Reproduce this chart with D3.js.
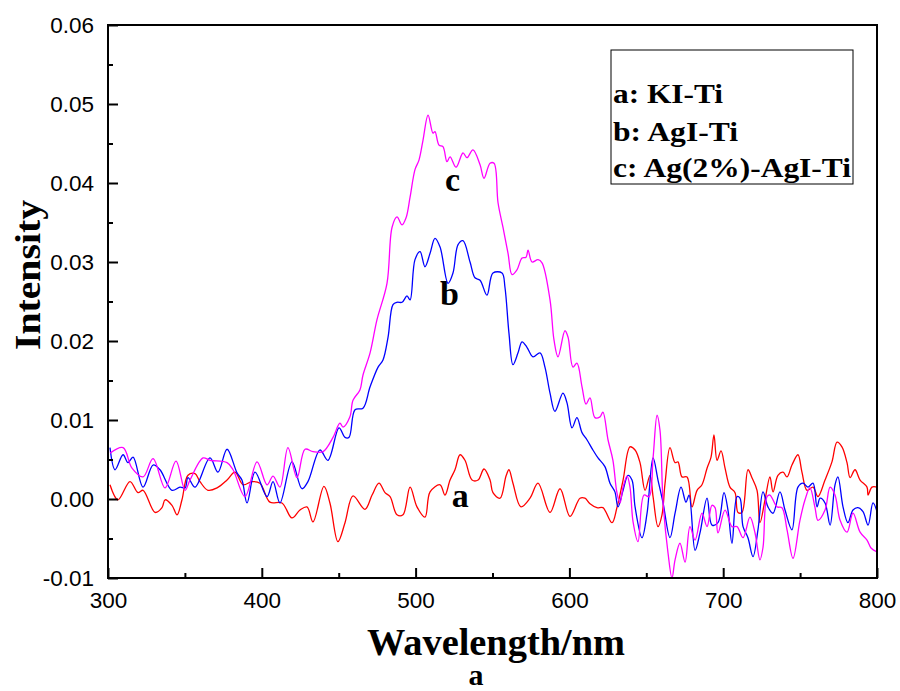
<!DOCTYPE html>
<html><head><meta charset="utf-8">
<script src="https://cdn.jsdelivr.net/npm/d3@7/dist/d3.min.js"></script>
<style>body{margin:0;background:#fff}svg{display:block}</style>
</head><body>
<svg id="chart" width="900" height="691"></svg>
<script>
const xTicks = [300, 400, 500, 600, 700, 800];
const yTicks = [-0.01, 0.00, 0.01, 0.02, 0.03, 0.04, 0.05, 0.06];
const legendLabels = ["a: KI-Ti", "b: AgI-Ti", "c: Ag(2%)-AgI-Ti"];
const curveLabels = ["a", "b", "c"];
const colors = ["#ff0000", "#0000ff", "#ff00ff"];

// series a: KI-Ti
const waveA = [301.3,306.5,314.3,319.5,322.8,330.6,335.1,337.1,341.6,344.9,348.1,352.0,356.6,359.8,365.0,370.9,377.4,382.6,387.8,393.6,398.8,405.3,413.1,419.6,424.8,429.4,433.3,440.4,444.3,449.5,454.1,459.3,467.1,471.7,476.2,480.1,483.4,487.9,491.8,496.4,500.9,506.1,509.4,515.9,519.1,522.4,525.6,528.9,532.1,536.7,540.6,544.5,548.4,550.3,554.9,558.8,560.7,563.3,568.5,574.4,579.6,587.4,593.9,600.4,606.9,610.1,613.4,617.9,621.8,627.7,630.9,634.9,639.4,642.7,645.9,649.2,652.4,654.4,657.6,660.2,662.2,665.4,668.7,670.6,673.2,676.5,679.7,683.0,686.2,689.5,692.1,694.0,696.0,698.6,701.2,704.4,707.7,709.6,712.2,716.1,718.7,722.0,723.9,727.2,730.4,732.4,735.6,738.9,741.5,744.7,748.6,751.2,754.5,758.4,761.6,766.2,770.7,774.0,777.2,780.5,782.5,785.7,789.0,793.5,794.2,796.7,800.0];
const valA = [0.0018,-0.0001,0.0022,0.0008,0.0011,-0.0017,-0.0011,-0.0001,-0.0008,-0.0020,-0.0001,0.0030,0.0032,0.0022,0.0011,0.0014,0.0024,0.0034,0.0018,0.0022,0.0020,-0.0004,-0.0005,-0.0024,-0.0014,-0.0010,-0.0029,0.0016,-0.0005,-0.0054,-0.0030,0.0004,-0.0013,0.0005,0.0020,0.0008,0.0003,-0.0020,-0.0020,0.0015,-0.0010,-0.0023,0.0009,0.0018,0.0005,0.0024,0.0037,0.0056,0.0049,0.0024,0.0024,0.0038,0.0024,0.0008,0.0001,0.0029,0.0037,0.0020,-0.0010,0.0001,0.0020,-0.0017,0.0013,-0.0022,0.0001,0.0001,-0.0006,-0.0011,-0.0011,-0.0030,-0.0011,0.0024,0.0066,0.0062,0.0046,0.0011,0.0030,0.0003,-0.0035,-0.0020,0.0020,0.0065,0.0046,0.0047,0.0028,0.0028,-0.0010,0.0011,0.0018,0.0039,0.0053,0.0081,0.0049,0.0061,0.0039,0.0015,0.0008,-0.0017,-0.0017,0.0037,0.0027,0.0011,-0.0030,-0.0001,0.0028,0.0009,0.0030,0.0034,0.0028,0.0043,0.0056,0.0034,0.0011,0.0015,0.0003,0.0024,0.0047,0.0072,0.0066,0.0046,0.0027,0.0037,0.0024,0.0015,0.0005,0.0015,0.0015];

// series b: AgI-Ti
const waveB = [301.3,304.6,309.8,313.0,316.3,322.8,329.3,333.8,341.6,346.8,350.1,352.0,356.6,366.3,371.5,377.4,383.9,387.1,390.4,395.6,403.4,407.3,411.8,419.6,426.1,430.0,437.8,443.0,450.2,454.1,456.7,460.6,465.8,470.4,475.6,478.8,482.1,485.3,487.9,491.2,494.4,496.4,499.6,502.9,506.1,509.4,512.6,515.9,521.1,524.3,527.6,530.8,535.4,538.6,541.9,546.4,550.3,556.2,558.1,560.7,563.3,566.6,569.2,572.4,576.3,580.9,584.1,587.4,590.6,595.8,598.4,601.7,604.9,608.2,611.4,615.3,618.6,623.1,626.4,629.6,631.6,634.9,638.1,640.7,642.7,647.2,650.5,654.4,657.6,660.9,665.4,668.7,672.6,675.8,677.8,681.7,684.9,689.5,692.7,696.6,700.5,703.1,705.7,709.0,710.9,712.9,716.1,719.4,722.6,725.9,729.1,732.4,736.9,740.2,744.7,748.6,751.9,755.1,758.4,761.0,763.0,766.2,769.5,772.7,774.6,777.9,781.1,784.4,787.6,790.9,794.2,797.4,800.0];
const valB = [0.0065,0.0037,0.0056,0.0046,0.0053,0.0015,0.0043,0.0037,0.0011,0.0015,0.0014,0.0027,0.0015,0.0052,0.0034,0.0063,0.0033,0.0024,-0.0005,0.0034,0.0003,0.0022,-0.0005,0.0047,0.0013,0.0022,0.0062,0.0049,0.0090,0.0078,0.0078,0.0113,0.0115,0.0142,0.0167,0.0176,0.0205,0.0246,0.0249,0.0249,0.0257,0.0252,0.0303,0.0313,0.0294,0.0311,0.0330,0.0319,0.0273,0.0286,0.0322,0.0327,0.0300,0.0280,0.0277,0.0258,0.0286,0.0286,0.0268,0.0210,0.0170,0.0185,0.0199,0.0192,0.0180,0.0185,0.0167,0.0134,0.0111,0.0134,0.0122,0.0090,0.0103,0.0084,0.0075,0.0062,0.0052,0.0041,0.0020,0.0009,-0.0010,0.0011,0.0030,0.0024,-0.0010,-0.0049,-0.0018,0.0052,0.0024,-0.0005,-0.0049,-0.0018,0.0015,-0.0004,0.0005,-0.0065,-0.0043,0.0001,-0.0033,-0.0030,0.0008,-0.0014,-0.0056,0.0003,0.0001,-0.0035,-0.0049,-0.0073,-0.0039,0.0009,-0.0010,-0.0018,0.0009,-0.0014,-0.0039,0.0015,0.0020,0.0015,0.0020,-0.0010,0.0001,-0.0005,-0.0033,0.0018,0.0028,-0.0010,-0.0030,-0.0014,-0.0011,-0.0016,-0.0033,-0.0005,-0.0016];

// series c: Ag(2%)-AgI-Ti
const waveC = [301.3,309.8,315.6,322.8,329.3,337.1,344.2,350.1,353.3,361.8,366.3,377.4,381.3,389.1,396.9,403.4,407.3,411.8,417.0,422.9,428.1,433.3,439.8,446.3,450.8,452.8,457.3,459.3,463.8,465.8,470.4,474.9,481.4,484.7,487.9,491.2,493.8,496.4,499.6,502.2,504.8,508.1,511.3,512.6,515.2,517.8,520.4,522.4,526.3,530.8,533.4,537.3,541.9,544.5,548.4,551.0,553.6,556.8,560.1,562.7,565.9,569.2,571.8,573.1,575.7,579.6,582.2,587.4,590.0,592.6,597.1,599.1,602.3,604.9,608.2,610.8,613.4,616.6,619.9,621.8,625.1,628.3,630.9,632.9,634.9,637.5,639.4,641.4,644.6,648.5,651.8,654.4,657.0,658.9,660.9,664.1,666.7,668.7,671.9,675.2,678.4,681.7,686.2,689.5,692.7,694.7,696.6,701.2,705.7,709.0,712.9,717.4,720.7,723.9,725.9,728.5,730.4,735.0,738.2,741.5,745.4,749.9,753.2,756.4,759.7,761.6,766.2,769.5,772.7,776.0,780.5,784.4,789.0,793.5,796.1,800.0];
const valC = [0.0058,0.0065,0.0039,0.0028,0.0051,0.0014,0.0048,0.0011,0.0024,0.0052,0.0049,0.0046,0.0037,0.0003,0.0047,0.0018,0.0029,0.0015,0.0065,0.0027,0.0063,0.0060,0.0060,0.0078,0.0096,0.0091,0.0104,0.0125,0.0138,0.0157,0.0185,0.0227,0.0273,0.0344,0.0357,0.0347,0.0356,0.0382,0.0417,0.0429,0.0454,0.0486,0.0463,0.0465,0.0448,0.0446,0.0427,0.0433,0.0420,0.0438,0.0432,0.0442,0.0423,0.0406,0.0425,0.0425,0.0375,0.0344,0.0311,0.0284,0.0290,0.0305,0.0306,0.0315,0.0300,0.0303,0.0299,0.0252,0.0201,0.0180,0.0213,0.0205,0.0167,0.0172,0.0142,0.0120,0.0128,0.0103,0.0104,0.0110,0.0075,0.0049,0.0008,-0.0005,0.0015,0.0029,0.0015,-0.0029,-0.0054,0.0005,0.0003,0.0052,0.0106,0.0087,-0.0004,-0.0068,-0.0100,-0.0077,-0.0056,-0.0080,-0.0035,-0.0052,-0.0018,-0.0035,-0.0008,-0.0011,-0.0043,-0.0014,-0.0035,-0.0035,-0.0049,-0.0023,-0.0043,-0.0077,-0.0061,0.0003,0.0005,-0.0010,-0.0011,-0.0039,-0.0075,-0.0027,-0.0001,0.0014,-0.0011,-0.0027,-0.0014,0.0015,0.0005,-0.0027,-0.0042,-0.0018,-0.0042,-0.0052,-0.0062,-0.0067];

const svg = d3.select("#chart");
const L = 108, R = 877, T = 25, B = 578;
const x = d3.scaleLinear().domain([300, 800]).range([L, R]);
const y = d3.scaleLinear().domain([-0.01, 0.06]).range([B, T]);

const series = [
  {w: waveA, v: valA},
  {w: waveB, v: valB},
  {w: waveC, v: valC}
];

svg.append("clipPath").attr("id", "clip").append("rect")
  .attr("x", L).attr("y", T).attr("width", R - L).attr("height", B - T);

const line = d3.line().x(d => x(d[0])).y(d => y(d[1])).curve(d3.curveCatmullRom.alpha(0.5));
const plot = svg.append("g").attr("clip-path", "url(#clip)");
series.forEach((s, i) => {
  const pts = s.w.map((w, k) => [w, s.v[k]]);
  plot.append("path").datum(pts).attr("d", line)
    .attr("fill", "none").attr("stroke", colors[i]).attr("stroke-width", 1.3);
});

// axes (inward ticks)
const tickFont = "'Liberation Sans', Arial, sans-serif";
const fmtY = d => d3.format(".2f")(d).replace("\u2212", "-");
const xAxis = d3.axisBottom(x).tickValues(xTicks).tickSizeInner(-10).tickSizeOuter(0).tickPadding(14).tickFormat(d3.format("d"));
const xMinor = d3.axisBottom(x).tickValues(d3.range(350, 800, 100)).tickSizeInner(-5).tickSizeOuter(0).tickFormat("");
const yAxis = d3.axisLeft(y).tickValues(yTicks).tickSizeInner(-10).tickSizeOuter(0).tickPadding(14).tickFormat(fmtY);
const yMinor = d3.axisLeft(y).tickValues(d3.range(-0.005, 0.06, 0.01)).tickSizeInner(-5).tickSizeOuter(0).tickFormat("");

function style(g) {
  g.select(".domain").remove();
  g.selectAll("line").attr("stroke", "#000").attr("stroke-width", 2);
  g.selectAll("text").attr("font-family", tickFont).attr("font-size", 22.5).attr("fill", "#000");
}
svg.append("g").attr("transform", `translate(0,${B})`).call(xAxis).call(style);
svg.append("g").attr("transform", `translate(0,${B})`).call(xMinor).call(style);
svg.append("g").attr("transform", `translate(${L},0)`).call(yAxis).call(style);
svg.append("g").attr("transform", `translate(${L},0)`).call(yMinor).call(style);

// frame
svg.append("rect").attr("x", L).attr("y", T).attr("width", R - L).attr("height", B - T)
  .attr("fill", "none").attr("stroke", "#000").attr("stroke-width", 2);

// titles
const serif = "'Liberation Serif', 'Times New Roman', serif";
svg.append("text").attr("x", 496).attr("y", 655).attr("text-anchor", "middle")
  .attr("font-family", serif).attr("font-weight", "bold").attr("font-size", 38)
  .attr("textLength", 258).attr("lengthAdjust", "spacingAndGlyphs").text("Wavelength/nm");
svg.append("text").attr("x", 476).attr("y", 685).attr("text-anchor", "middle")
  .attr("font-family", serif).attr("font-weight", "bold").attr("font-size", 30).text("a");
svg.append("text").attr("transform", "translate(40,275) rotate(-90)").attr("text-anchor", "middle")
  .attr("font-family", serif).attr("font-weight", "bold").attr("font-size", 36)
  .attr("textLength", 150).attr("lengthAdjust", "spacingAndGlyphs").text("Intensity");

// curve labels
const labelPos = [[529, -0.001], [522, 0.0245], [524, 0.039]];
curveLabels.forEach((t, i) => {
  svg.append("text").attr("x", x(labelPos[i][0])).attr("y", y(labelPos[i][1]))
    .attr("text-anchor", "middle").attr("font-family", serif).attr("font-weight", "bold")
    .attr("font-size", 34).text(t);
});

// legend
svg.append("rect").attr("x", 611).attr("y", 50).attr("width", 242).attr("height", 134)
  .attr("fill", "#fff").attr("stroke", "#000").attr("stroke-width", 1);
const legY = [103, 141, 177];
const legW = [110, 125, 238];
legendLabels.forEach((t, i) => {
  svg.append("text").attr("x", 613).attr("y", legY[i])
    .attr("font-family", serif).attr("font-weight", "bold").attr("font-size", 27)
    .attr("textLength", legW[i]).attr("lengthAdjust", "spacingAndGlyphs").text(t);
});
</script>
</body></html>
